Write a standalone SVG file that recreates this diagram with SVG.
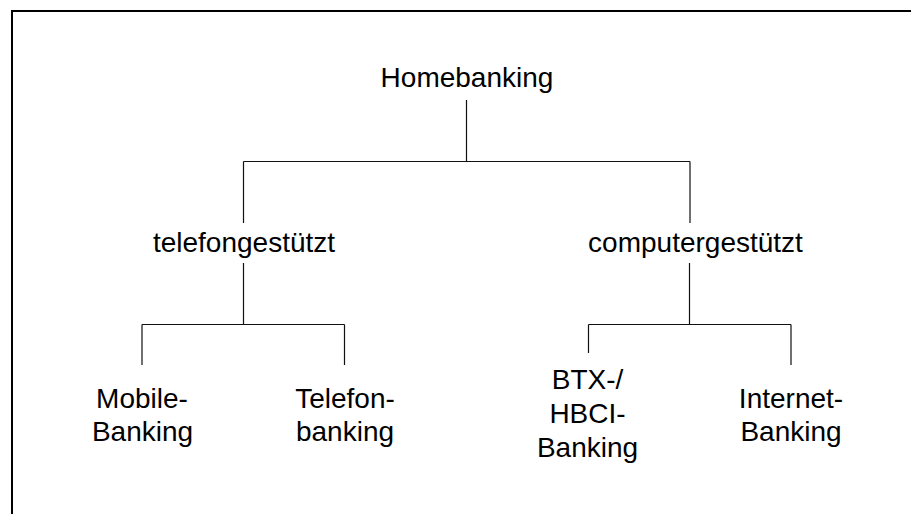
<svg xmlns="http://www.w3.org/2000/svg" width="911" height="514" viewBox="0 0 911 514">
<style>
.t{font-family:"Liberation Sans",Arial,sans-serif;font-size:28px;fill:#000;text-anchor:middle}
.c{stroke:#111;stroke-width:1.2;fill:none}
</style>
<rect x="0" y="0" width="911" height="514" fill="#fff"/>
<rect x="12" y="11" width="1000" height="1000" fill="none" stroke="#000" stroke-width="2"/>
<g id="connectors" class="c">
<path d="M466.5 100V161.5M243.5 161.5H690M243.5 161.5V223M690 161.5V223"/>
<path d="M243.5 263V324.5M142 324.5H344.5M142 324.5V365M344.5 324.5V365"/>
<path d="M689.5 263V324.5M588.5 324.5H791M588.5 324.5V353M791 324.5V365"/>
</g>
<g id="homebanking"><text class="t" x="467" y="87">Homebanking</text></g>
<g id="telefongestuetzt"><text class="t" x="244" y="252">telefongestützt</text></g>
<g id="computergestuetzt"><text class="t" x="695.5" y="252">computergestützt</text></g>
<g id="mobile"><text class="t" x="142" y="408">Mobile-</text><text class="t" x="142.5" y="441">Banking</text></g>
<g id="telefonbanking"><text class="t" x="345" y="408">Telefon-</text><text class="t" x="345" y="441">banking</text></g>
<g id="btx"><text class="t" x="587.5" y="388.5">BTX-/</text><text class="t" x="587.5" y="423">HBCI-</text><text class="t" x="587.5" y="457">Banking</text></g>
<g id="internet"><text class="t" x="791" y="408">Internet-</text><text class="t" x="791" y="441">Banking</text></g>
</svg>
